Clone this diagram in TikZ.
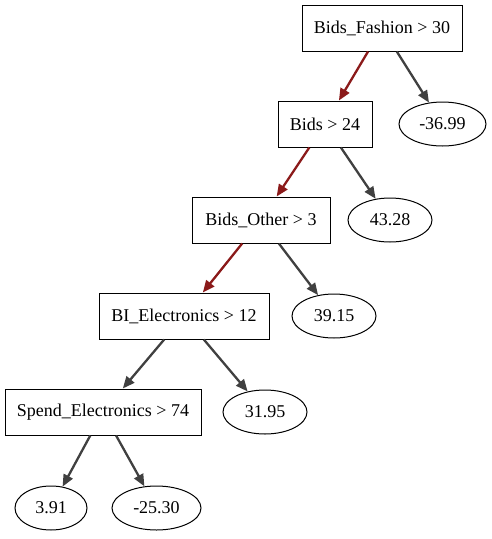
\documentclass[tikz,border=0pt]{standalone}
\usepackage{fontspec}
\setmainfont{Liberation Serif}
\usetikzlibrary{shapes.geometric,arrows.meta}
\definecolor{edgered}{HTML}{8B1A1A}
\definecolor{edgegray}{HTML}{404040}
\begin{document}
\begin{tikzpicture}[x=1pt,y=-1pt,
  every node/.style={font=\fontsize{18}{20}\selectfont, inner sep=0pt},
  splitbox/.style={draw=black, line width=1pt, rectangle, minimum height=46pt},
  leafnode/.style={draw=black, line width=1pt, ellipse, minimum height=44pt},
  yesedge/.style={draw=edgered, line width=2.3pt, -{Triangle[length=12pt,width=10pt]}},
  noedge/.style={draw=edgegray, line width=2.3pt, -{Triangle[length=12pt,width=10pt]}}]
\useasboundingbox (0,0) rectangle (491,539);
\node[splitbox, minimum width=160pt] (n0) at (382,28) {Bids\_Fashion > 30};
\node[leafnode, minimum width=87pt] (l0) at (442.5,124) {-36.99};
\node[splitbox, minimum width=94pt] (n1) at (325,124) {Bids > 24};
\node[leafnode, minimum width=84pt] (l1) at (390,220) {43.28};
\node[splitbox, minimum width=138pt] (n2) at (261,220) {Bids\_Other > 3};
\node[leafnode, minimum width=84pt] (l2) at (334,316) {39.15};
\node[splitbox, minimum width=170pt] (n3) at (184,316) {BI\_Electronics > 12};
\node[leafnode, minimum width=84pt] (l3) at (265,412) {31.95};
\node[splitbox, minimum width=196pt] (n4) at (103,412) {Spend\_Electronics > 74};
\node[leafnode, minimum width=72pt] (l4) at (51,508) {3.91};
\node[leafnode, minimum width=89pt] (l5) at (156.5,508) {-25.30};
\draw[yesedge] (n0) -- (n1);
\draw[noedge] (n0) -- (l0);
\draw[yesedge] (n1) -- (n2);
\draw[noedge] (n1) -- (l1);
\draw[yesedge] (n2) -- (n3);
\draw[noedge] (n2) -- (l2);
\draw[noedge] (n3) -- (n4);
\draw[noedge] (n3) -- (l3);
\draw[noedge] (n4) -- (l4);
\draw[noedge] (n4) -- (l5);
\end{tikzpicture}
\end{document}
